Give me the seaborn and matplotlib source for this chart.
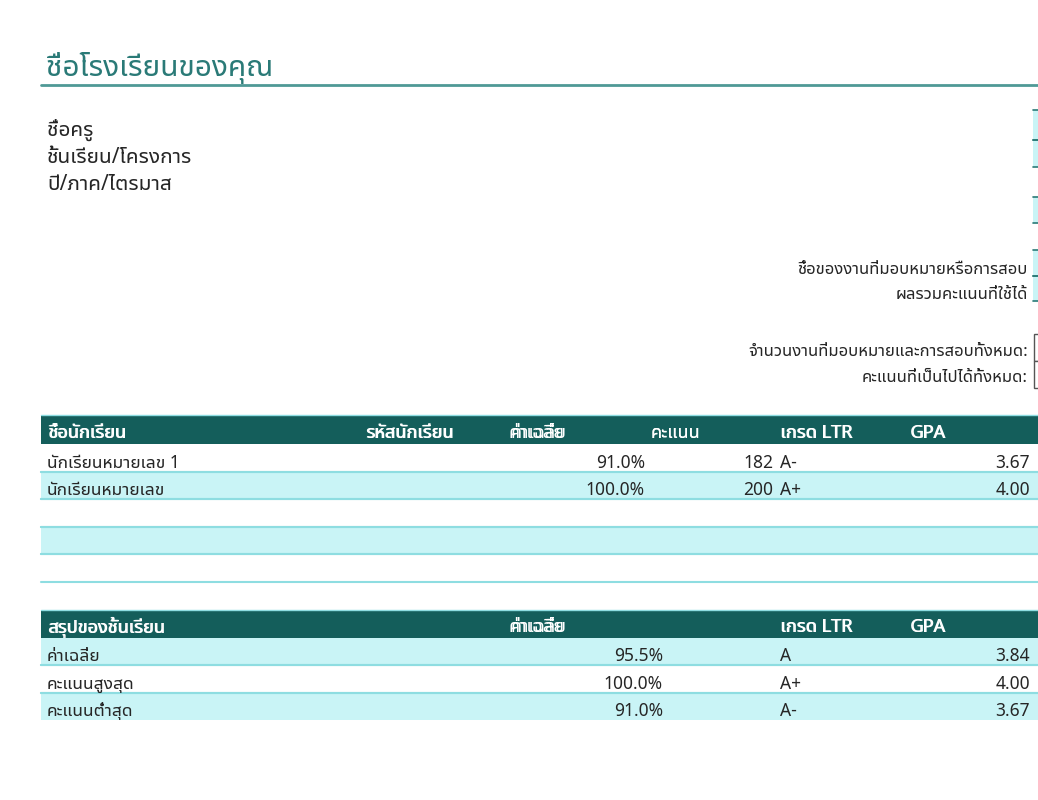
import matplotlib
matplotlib.use('Agg')
import matplotlib.pyplot as plt
import seaborn as sns
import pandas as pd

# ข้อมูล
school_title = 'ชื่อโรงเรียนของคุณ'
info_labels = ['ชื่อครู', 'ชั้นเรียน/โครงการ', 'ปี/ภาค/ไตรมาส']
assign_labels = ['ชื่อของงานที่มอบหมายหรือการสอบ', 'ผลรวมคะแนนที่ใช้ได้']
total_labels = ['จำนวนงานที่มอบหมายและการสอบทั้งหมด:', 'คะแนนที่เป็นไปได้ทั้งหมด:']

student_headers = ['ชื่อนักเรียน', 'รหัสนักเรียน', 'ค่าเฉลี่ย', 'คะแนน', 'เกรด LTR', 'GPA']
student_names = ['นักเรียนหมายเลข 1', 'นักเรียนหมายเลข', '', '', '']
student_avg = [0.910, 1.000, None, None, None]
student_score = [182, 200, None, None, None]
student_grade = ['A-', 'A+', '', '', '']
student_gpa = [3.67, 4.00, None, None, None]

summary_headers = ['สรุปของชั้นเรียน', 'ค่าเฉลี่ย', 'เกรด LTR', 'GPA']
summary_names = ['ค่าเฉลี่ย', 'คะแนนสูงสุด', 'คะแนนต่ำสุด']
summary_avg = [0.955, 1.000, 0.910]
summary_grade = ['A', 'A+', 'A-']
summary_gpa = [3.84, 4.00, 3.67]

students = pd.DataFrame({'name': student_names, 'avg': student_avg, 'score': student_score,
                         'grade': student_grade, 'gpa': student_gpa})
summary = pd.DataFrame({'name': summary_names, 'avg': summary_avg,
                        'grade': summary_grade, 'gpa': summary_gpa})

# สี
DARK = '#145e5b'
TEAL = '#2a7a77'
CYAN = '#c9f4f6'
LINE = '#8edde1'
TXT = '#262626'
FS = 12.5

sns.set_theme(style='white')
plt.rcParams['font.family'] = ['Noto Sans', 'Noto Sans Thai UI', 'DejaVu Sans']

fig = plt.figure(figsize=(10.38, 8), dpi=100)
ax = fig.add_axes([0, 0, 1, 1])
ax.set_xlim(0, 1038)
ax.set_ylim(800, 0)
ax.axis('off')

X0, X1 = 41, 1038

# หัวเรื่อง
ax.text(46, 76, school_title, fontsize=21.5, color=TEAL, va='baseline')
ax.plot([X0, X1], [85, 85], color='#4f9996', lw=2)

for i, lab in enumerate(info_labels):
    ax.text(47, 136 + i * 27, lab, fontsize=15, color=TXT, va='baseline')

# ช่องด้านขวา
for y0, y1 in [(110, 140), (140, 167), (197, 223), (250, 276), (276, 301)]:
    ax.add_patch(plt.Rectangle((1033, y0), 10, y1 - y0, fc=CYAN, ec='none'))
    ax.plot([1033, 1038], [y0, y0], color=TEAL, lw=1.2)
    ax.plot([1033, 1038], [y1, y1], color=TEAL, lw=1.2)
for y0, y1 in [(334, 361), (361, 388)]:
    ax.add_patch(plt.Rectangle((1034, y0), 10, y1 - y0, fc='white', ec='#555555', lw=1))

for i, lab in enumerate(assign_labels):
    ax.text(1028, 274 + i * 25, lab, fontsize=12, color=TXT, va='baseline', ha='right')
for i, lab in enumerate(total_labels):
    ax.text(1028, 356 + i * 26, lab, fontsize=12, color=TXT, va='baseline', ha='right')


def header(ytop, ybot, labels, xs):
    ax.plot([X0, X1], [ytop - 1.5, ytop - 1.5], color=LINE, lw=1)
    ax.add_patch(plt.Rectangle((X0, ytop), X1 - X0, ybot - ytop, fc=DARK, ec='none'))
    for lab, x in zip(labels, xs):
        # ตัวหนาแบบวาดซ้อน
        for dx in (0, 1.0):
            ax.text(x + dx, ybot - 5.5, lab, fontsize=13, color='white', weight='bold', va='baseline')


def band(ytop, ybot, fill, line_top, line_bot):
    if fill:
        ax.add_patch(plt.Rectangle((X0, ytop), X1 - X0, ybot - ytop, fc=CYAN, ec='none'))
    if line_top:
        ax.plot([X0, X1], [ytop, ytop], color=LINE, lw=1.5)
    if line_bot:
        ax.plot([X0, X1], [ybot, ybot], color=LINE, lw=1.5)


# ตารางนักเรียน
header(416, 444, student_headers, [47, 365, 509, 650, 780, 910])
row_h = 27.6
for i, r in students.iterrows():
    yt = 444 + i * row_h
    yb = yt + row_h
    band(yt, yb, i % 2 == 1, i > 0, True)
    yb_txt = yb - 4
    ax.text(47, yb_txt, r['name'], fontsize=FS, color=TXT, va='baseline')
    if pd.notna(r['avg']):
        ax.text(645, yb_txt, f"{r['avg'] * 100:.1f}%", fontsize=FS, color=TXT, va='baseline', ha='right')
        ax.text(773, yb_txt, f"{int(r['score'])}", fontsize=FS, color=TXT, va='baseline', ha='right')
        ax.text(780, yb_txt, r['grade'], fontsize=FS, color=TXT, va='baseline')
        ax.text(1030, yb_txt, f"{r['gpa']:.2f}", fontsize=FS, color=TXT, va='baseline', ha='right')

# ตารางสรุป
header(611, 638, summary_headers, [47, 509, 780, 910])
for i, r in summary.iterrows():
    yt = 638 + i * 27.3
    yb = yt + 27.3
    band(yt, yb, i % 2 == 0, i > 0, i < 2)
    yb_txt = yb - 4
    ax.text(47, yb_txt, r['name'], fontsize=FS, color=TXT, va='baseline')
    ax.text(663, yb_txt, f"{r['avg'] * 100:.1f}%", fontsize=FS, color=TXT, va='baseline', ha='right')
    ax.text(780, yb_txt, r['grade'], fontsize=FS, color=TXT, va='baseline')
    ax.text(1030, yb_txt, f"{r['gpa']:.2f}", fontsize=FS, color=TXT, va='baseline', ha='right')

fig.savefig('out.png', dpi=100)
